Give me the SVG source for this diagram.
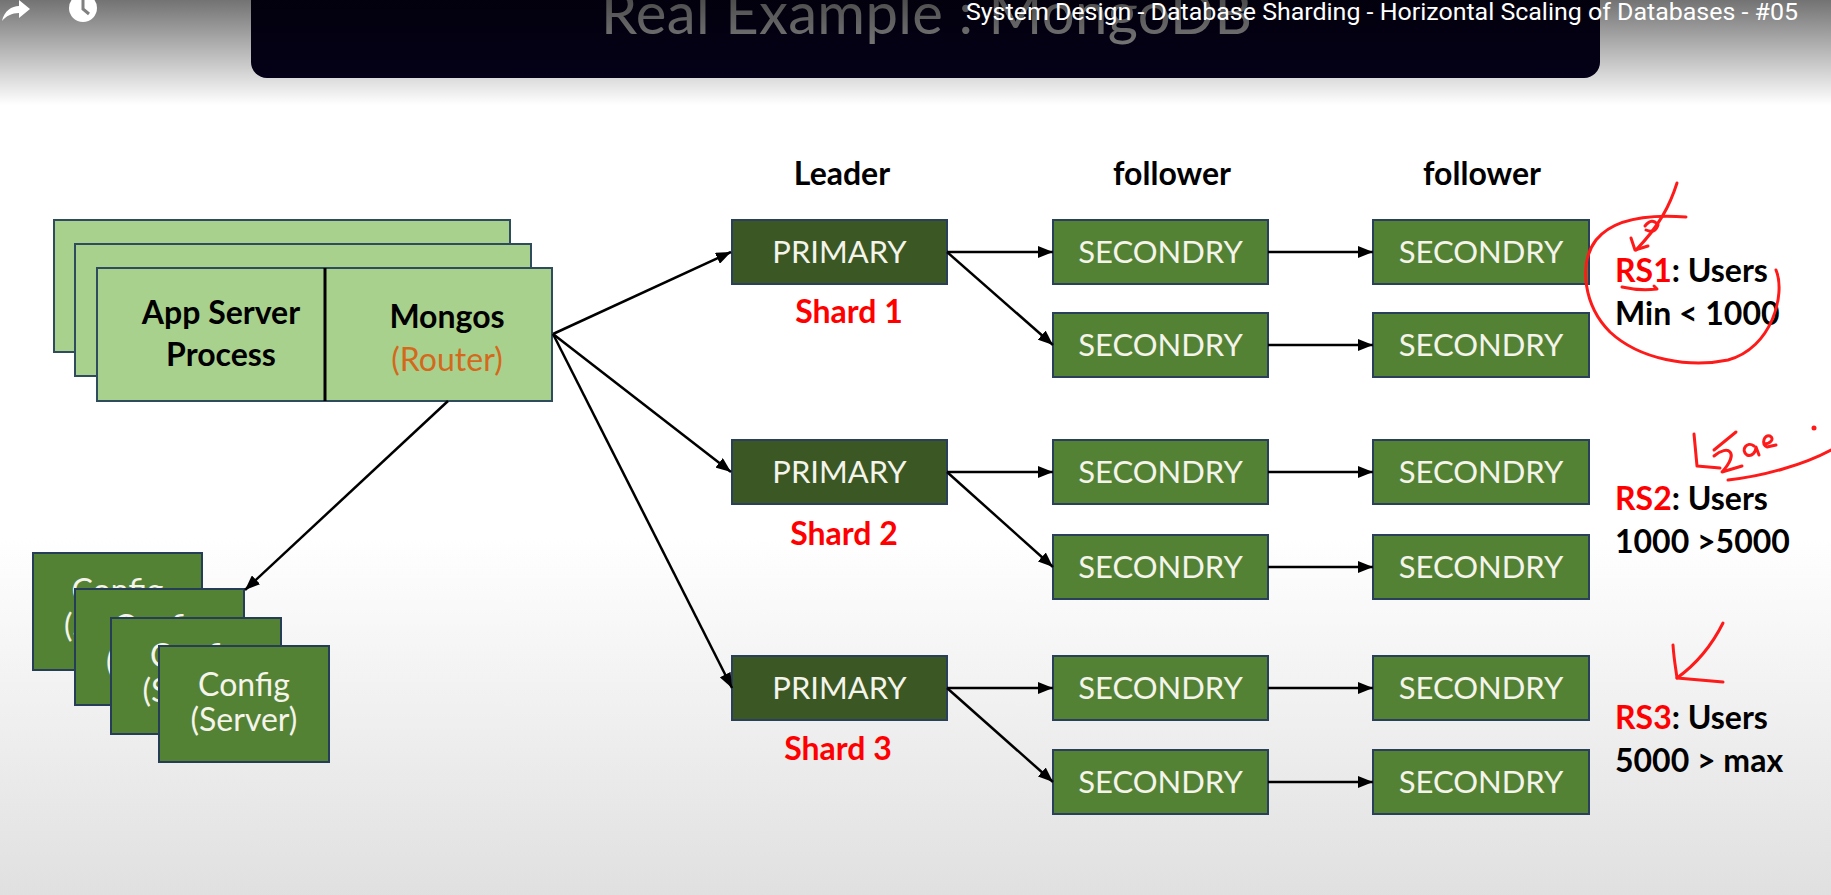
<svg xmlns="http://www.w3.org/2000/svg" width="1831" height="895" viewBox="0 0 1831 895">
<style>
.app{fill:#A9D18E;stroke:#2F4B5E;stroke-width:2}
.cfg{fill:#548235;stroke:#263D57;stroke-width:2}
.pri{fill:#3A5724;stroke:#2A3F5A;stroke-width:2}
.sec{fill:#548235;stroke:#2A3F5A;stroke-width:2}
.bt{font-family:Lato,"Liberation Sans",sans-serif;font-size:31px;fill:#F4F4EA;text-anchor:middle}
.ct{font-family:Lato,"Liberation Sans",sans-serif;font-size:32px;fill:#F4F4EA;text-anchor:middle}
.bold{font-family:Lato,"Liberation Sans",sans-serif;font-size:32px;font-weight:bold;fill:#000}
.red{fill:#FF0000}
.mid{text-anchor:middle}
.con{stroke:#000;stroke-width:2.5;fill:none;marker-end:url(#ah)}
.ink{stroke:#FF1A1A;stroke-width:3;fill:none;stroke-linecap:round;stroke-linejoin:round}
</style>
<defs>
<marker id="ah" markerUnits="userSpaceOnUse" markerWidth="16" markerHeight="12" refX="15" refY="6" orient="auto">
<path d="M0,0 L15,6 L0,12 Z" fill="#000"/>
</marker>
<linearGradient id="bg" x1="0" y1="0" x2="0" y2="1">
<stop offset="0" stop-color="#FFFFFF"/>
<stop offset="0.6" stop-color="#FFFFFF"/>
<stop offset="1" stop-color="#E0E0E0"/>
</linearGradient>
<linearGradient id="yt" x1="0" y1="0" x2="0" y2="1">
<stop offset="0" stop-color="#000" stop-opacity="0.55"/>
<stop offset="1" stop-color="#000" stop-opacity="0"/>
</linearGradient>
</defs>
<rect x="0" y="0" width="1831" height="895" fill="url(#bg)"/>

<g id="title">
<rect x="251" y="-30" width="1349" height="108" rx="16" fill="#05011C"/>
<text x="601" y="34" font-family="Lato,'Liberation Sans',sans-serif" font-size="58" fill="#ABABAB" textLength="651">Real Example : MongoDB</text>
</g>

<g id="app-server">
<rect class="app" x="54" y="220" width="456" height="132"/>
<rect class="app" x="75" y="244" width="456" height="132"/>
<rect class="app" x="97" y="268" width="455" height="133"/>
<line x1="325" y1="268" x2="325" y2="401" stroke="#000" stroke-width="3"/>
<text class="bold mid" x="221" y="324">App Server</text>
<text class="bold mid" x="221" y="366">Process</text>
<text class="bold mid" x="447" y="328">Mongos</text>
<text x="447" y="371" font-family="Lato,'Liberation Sans',sans-serif" font-size="32" fill="#D4691C" text-anchor="middle">(Router)</text>
</g>

<g id="config-servers">
<rect class="cfg" x="33" y="553" width="169" height="117"/>
<text class="ct" x="117.5" y="602">Config</text>
<text class="ct" x="117.5" y="637">(Server)</text>
<rect class="cfg" x="75" y="589" width="169" height="116"/>
<text class="ct" x="159.5" y="638">Config</text>
<text class="ct" x="159.5" y="673">(Server)</text>
<rect class="cfg" x="111" y="618" width="170" height="116"/>
<text class="ct" x="196" y="667">Config</text>
<text class="ct" x="196" y="702">(Server)</text>
<rect class="cfg" x="159" y="646" width="170" height="116"/>
<text class="ct" x="244" y="696">Config</text>
<text class="ct" x="244" y="731">(Server)</text>
</g>

<g id="headers">
<text class="bold mid" x="842" y="185">Leader</text>
<text class="bold mid" x="1172" y="185">follower</text>
<text class="bold mid" x="1482" y="185">follower</text>
</g>

<g id="shard1">
<rect class="pri" x="732" y="220" width="215" height="64"/>
<text class="bt" x="839.5" y="263">PRIMARY</text>
<text class="bold red mid" x="849" y="323">Shard 1</text>
</g>
<g id="s1-sec-a"><rect class="sec" x="1053" y="220" width="215" height="64"/><text class="bt" x="1160.5" y="263">SECONDRY</text></g>
<g id="s1-sec-b"><rect class="sec" x="1373" y="220" width="216" height="64"/><text class="bt" x="1481" y="263">SECONDRY</text></g>
<g id="s1-sec-c"><rect class="sec" x="1053" y="313" width="215" height="64"/><text class="bt" x="1160.5" y="356">SECONDRY</text></g>
<g id="s1-sec-d"><rect class="sec" x="1373" y="313" width="216" height="64"/><text class="bt" x="1481" y="356">SECONDRY</text></g>

<g id="shard2">
<rect class="pri" x="732" y="440" width="215" height="64"/>
<text class="bt" x="839.5" y="483">PRIMARY</text>
<text class="bold red mid" x="844" y="545">Shard 2</text>
</g>
<g id="s2-sec-a"><rect class="sec" x="1053" y="440" width="215" height="64"/><text class="bt" x="1160.5" y="483">SECONDRY</text></g>
<g id="s2-sec-b"><rect class="sec" x="1373" y="440" width="216" height="64"/><text class="bt" x="1481" y="483">SECONDRY</text></g>
<g id="s2-sec-c"><rect class="sec" x="1053" y="535" width="215" height="64"/><text class="bt" x="1160.5" y="578">SECONDRY</text></g>
<g id="s2-sec-d"><rect class="sec" x="1373" y="535" width="216" height="64"/><text class="bt" x="1481" y="578">SECONDRY</text></g>

<g id="shard3">
<rect class="pri" x="732" y="656" width="215" height="64"/>
<text class="bt" x="839.5" y="699">PRIMARY</text>
<text class="bold red mid" x="838" y="760">Shard 3</text>
</g>
<g id="s3-sec-a"><rect class="sec" x="1053" y="656" width="215" height="64"/><text class="bt" x="1160.5" y="699">SECONDRY</text></g>
<g id="s3-sec-b"><rect class="sec" x="1373" y="656" width="216" height="64"/><text class="bt" x="1481" y="699">SECONDRY</text></g>
<g id="s3-sec-c"><rect class="sec" x="1053" y="750" width="215" height="64"/><text class="bt" x="1160.5" y="793">SECONDRY</text></g>
<g id="s3-sec-d"><rect class="sec" x="1373" y="750" width="216" height="64"/><text class="bt" x="1481" y="793">SECONDRY</text></g>

<g id="rs-labels">
<text class="bold" x="1615" y="282"><tspan class="red">RS1</tspan>: Users</text>
<text class="bold" x="1615" y="325">Min &lt; 1000</text>
<text class="bold" x="1615" y="510"><tspan class="red">RS2</tspan>: Users</text>
<text class="bold" x="1615" y="553">1000 &gt;5000</text>
<text class="bold" x="1615" y="729"><tspan class="red">RS3</tspan>: Users</text>
<text class="bold" x="1615" y="772">5000 &gt; max</text>
</g>

<g id="connectors">
<line class="con" x1="553" y1="334" x2="731" y2="252"/>
<line class="con" x1="553" y1="334" x2="731" y2="472"/>
<line class="con" x1="553" y1="334" x2="732" y2="688"/>
<line class="con" x1="448" y1="401" x2="245" y2="590"/>
<line class="con" x1="947" y1="252" x2="1053" y2="252"/>
<line class="con" x1="947" y1="252" x2="1053" y2="345"/>
<line class="con" x1="1268" y1="252" x2="1373" y2="252"/>
<line class="con" x1="1268" y1="345" x2="1373" y2="345"/>
<line class="con" x1="947" y1="472" x2="1053" y2="472"/>
<line class="con" x1="947" y1="472" x2="1053" y2="567"/>
<line class="con" x1="1268" y1="472" x2="1373" y2="472"/>
<line class="con" x1="1268" y1="567" x2="1373" y2="567"/>
<line class="con" x1="947" y1="688" x2="1053" y2="688"/>
<line class="con" x1="947" y1="688" x2="1053" y2="782"/>
<line class="con" x1="1268" y1="688" x2="1373" y2="688"/>
<line class="con" x1="1268" y1="782" x2="1373" y2="782"/>
</g>

<g id="annotations">
<path class="ink" d="M1776,270 C1786,294 1772,348 1728,360 C1690,368 1640,360 1610,332 C1584,306 1578,264 1596,240 C1612,220 1645,214 1686,217"/>
<path class="ink" d="M1677,183 C1670,205 1660,225 1636,250"/>
<path class="ink" d="M1631,238 L1635,250 L1648,246"/>
<path class="ink" d="M1645,226 q7,-9 13,-1 q-3,9 -12,5"/>
<path class="ink" d="M1622,287 C1635,290 1648,290 1657,289 l-3,-3"/>
<path class="ink" d="M1694,434 L1697,466 L1720,468"/>
<path class="ink" d="M1736,432 L1714,450"/>
<path class="ink" d="M1714,456 C1728,444 1740,452 1722,472 L1742,466"/>
<path class="ink" d="M1754,446 c-7,-5 -14,4 -7,9 c5,2 9,-3 9,-8 l3,8"/>
<path class="ink" d="M1764,444 c6,0 11,-5 6,-8 c-6,-2 -9,8 -3,11 l9,-2"/>
<circle cx="1814" cy="428" r="2.5" fill="#FF1A1A"/>
<path class="ink" d="M1728,480 C1765,476 1805,464 1831,450"/>
<path class="ink" d="M1723,623 C1712,645 1695,665 1677,678"/>
<path class="ink" d="M1673,645 C1674,660 1676,670 1677,678 L1723,682"/>
</g>

<g id="player-overlay">
<rect x="0" y="0" width="1831" height="105" fill="url(#yt)"/>
<path d="M2,21 C4,11 12,6 19,6 L19,0 L30,9 L19,18 L19,13 C12,13 6,16 2,21 Z" fill="#FFF"/>
<circle cx="83" cy="8" r="14" fill="#FFF"/>
<path d="M83,-1 L83,9 L89,14" stroke="#808080" stroke-width="3" fill="none"/>
<text x="966" y="20" font-family="Roboto,'Liberation Sans',sans-serif" font-size="24" fill="#FFF" textLength="832" lengthAdjust="spacingAndGlyphs">System Design - Database Sharding - Horizontal Scaling of Databases - #05</text>
</g>
</svg>
